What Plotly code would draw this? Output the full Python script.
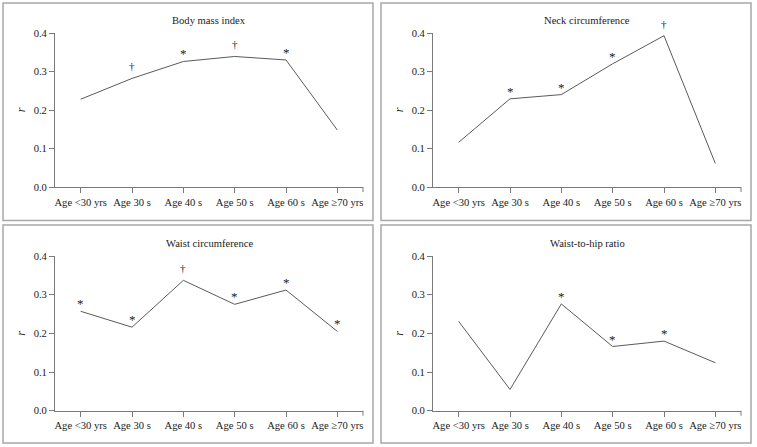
import plotly.graph_objects as go

categories = ["Age <30 yrs", "Age 30 s", "Age 40 s", "Age 50 s", "Age 60 s", "Age \u226570 yrs"]

panel_titles = ["Body mass index", "Neck circumference", "Waist circumference", "Waist-to-hip ratio"]

bmi_r = [0.228, 0.282, 0.326, 0.339, 0.330, 0.148]
neck_r = [0.116, 0.229, 0.240, 0.320, 0.393, 0.061]
waist_r = [0.257, 0.216, 0.337, 0.275, 0.312, 0.205]
whr_r = [0.231, 0.055, 0.276, 0.166, 0.180, 0.124]

bmi_sig = ["", "\u2020", "*", "\u2020", "*", ""]
neck_sig = ["", "*", "*", "*", "\u2020", ""]
waist_sig = ["*", "*", "\u2020", "*", "*", "*"]
whr_sig = ["", "", "*", "*", "*", ""]

y_ticks = [0.0, 0.1, 0.2, 0.3, 0.4]

series = [bmi_r, neck_r, waist_r, whr_r]
sigs = [bmi_sig, neck_sig, waist_sig, whr_sig]

W, H = 757, 447
FONT = "'Liberation Serif', 'Times New Roman', 'DejaVu Serif', serif"
TXT = "#1a1a1a"
AX = "#7a7a7a"
FS = 10.6

# plot-area pixel boxes (left, right, top, bottom)
boxes = [(55, 363, 33, 187), (433, 741, 33, 187), (55, 363, 256, 410.7), (433, 741, 256, 410.7)]
# panel border boxes
frames = [(3, 373, 3, 220.5), (381, 751, 3, 220.5), (3, 373, 225, 443), (381, 751, 225, 443)]

fig = go.Figure()
layout = dict(
    width=W, height=H, margin=dict(l=0, r=0, t=0, b=0),
    paper_bgcolor="white", plot_bgcolor="white", showlegend=False,
    font=dict(family=FONT, size=FS, color=TXT),
)
annotations = []
shapes = []

for i in range(4):
    n = "" if i == 0 else str(i + 1)
    xa, ya = "x" + n, "y" + n
    l, r, t, b = boxes[i]
    layout["xaxis" + n] = dict(
        domain=[l / W, r / W], anchor=ya, type="category",
        categoryorder="array", categoryarray=categories,
        range=[-0.5, 5.5], showline=True, linecolor=AX, linewidth=1,
        ticks="outside", ticklen=5, tickcolor=AX, tickwidth=1, tickangle=0,
        showgrid=False, zeroline=False, automargin=False,
        tickfont=dict(family=FONT, size=FS, color=TXT),
    )
    layout["yaxis" + n] = dict(
        domain=[1 - b / H, 1 - t / H], anchor=xa, range=[0, 0.4],
        tickvals=y_ticks, tickformat=".1f", showline=True, linecolor=AX, linewidth=1,
        ticks="outside", ticklen=5, tickcolor=AX, tickwidth=1,
        showgrid=False, zeroline=False, automargin=False,
        tickfont=dict(family=FONT, size=FS, color=TXT),
        title=dict(text="<i>r</i>", font=dict(family=FONT, size=12, color=TXT), standoff=5),
    )
    fig.add_trace(go.Scatter(
        x=categories, y=series[i], mode="lines",
        line=dict(color="#5a5a5a", width=1), xaxis=xa, yaxis=ya, hoverinfo="skip",
    ))
    for c, v, s in zip(categories, series[i], sigs[i]):
        if s:
            annotations.append(dict(
                x=c, y=v, xref=xa, yref=ya, text=s, showarrow=False,
                yanchor="bottom", yshift=-2 if s == "*" else 4,
                font=dict(family=FONT, size=13 if s == "*" else 11, color=TXT),
            ))
    annotations.append(dict(
        x=0.5, y=1, xref=xa + " domain", yref=ya + " domain", text=panel_titles[i],
        showarrow=False, yanchor="middle", yshift=13,
        font=dict(family=FONT, size=FS, color=TXT),
    ))
    # end tick at right edge of x axis
    shapes.append(dict(
        type="line", xref=xa + " domain", yref=ya + " domain",
        x0=1, x1=1, y0=0, y1=-5 / (b - t), line=dict(color=AX, width=1),
    ))
    fl, fr, ft, fb = frames[i]
    shapes.append(dict(
        type="rect", xref="paper", yref="paper",
        x0=fl / W, x1=fr / W, y0=1 - fb / H, y1=1 - ft / H,
        line=dict(color="#a8a8a8", width=1.5), fillcolor="rgba(0,0,0,0)", layer="below",
    ))

layout["annotations"] = annotations
layout["shapes"] = shapes
fig.update_layout(**layout)
fig.write_html(
    "out.html",
    config={"displayModeBar": False},
    post_script="document.body.style.margin='0';document.body.style.overflow='hidden';",
)
